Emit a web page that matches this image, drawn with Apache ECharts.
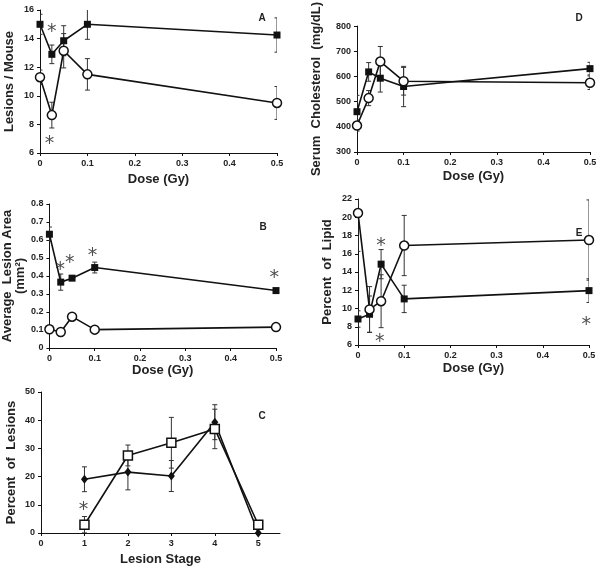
<!DOCTYPE html>
<html>
<head>
<meta charset="utf-8">
<script src="https://cdn.jsdelivr.net/npm/echarts@6/dist/echarts.min.js"></script>
<style>
  html, body { margin: 0; padding: 0; background: #fff; }
  #main { width: 602px; height: 571px; }
</style>
</head>
<body>
<div id="main"></div>
<script>
// dose points (Gy)
var doseX = [0, 0.025, 0.05, 0.1, 0.5];
var stageX = [1, 2, 3, 4, 5];

// A: lesions / mouse
var lesionsFilled = [15.0, 12.9, 13.85, 15.0, 14.25];
var lesionsFilledErr = [0.7, 0.65, 1.05, 1.05, 1.2];
var lesionsOpen = [11.3, 8.65, 13.15, 11.5, 9.5];
var lesionsOpenErr = [0.5, 0.9, 1.2, 1.1, 1.15];
var starsA = [[0.025, 14.8], [0.02, 7.0]];

// D: serum cholesterol
var cholFilled = [460, 618, 593, 560, 631];
var cholFilledErr = [65, 37, 55, 80, 25];
var cholOpen = [405, 514, 659, 581, 575];
var cholOpenErr = [22, 30, 60, 55, 27];

// B: average lesion area
var areaFilled = [0.632, 0.366, 0.388, 0.447, 0.319];
var areaFilledErr = [0.04, 0.045, 0.012, 0.03, 0.01];
var areaOpen = [0.104, 0.089, 0.174, 0.102, 0.116];
var areaOpenErr = [0.008, 0.008, 0.01, 0.008, 0.008];
var starsB = [[0.024, 0.46], [0.045, 0.50], [0.095, 0.54], [0.496, 0.416]];

// E: percent of lipid
var lipidFilled = [8.85, 9.37, 14.86, 11.05, 11.96];
var lipidFilledErr = [0.9, 2.0, 1.6, 1.5, 1.3];
var lipidOpen = [20.46, 9.9, 10.8, 16.9, 17.5];
var lipidOpenErr = [4.2, 2.5, 2.9, 3.3, 4.4];
var starsE = [[0.05, 17.35], [0.047, 6.9], [0.494, 8.74]];

// C: percent of lesions by stage
var stageOpen = [2.94, 27.5, 32.0, 36.9, 2.94];
var stageOpenErr = [2.9, 3.7, 9, 7, 1.5];
var stageFilled = [19.06, 21.6, 20.2, 39.3, 0];
var stageFilledErr = [4.4, 6.3, 5.5, 6.2, 0];
var starsC = [[0.98, 10]];

var FONT = '"Liberation Sans", Arial, sans-serif';

function pairs(xs, ys) {
  return xs.map(function (x, i) { return [x, ys[i]]; });
}
function errData(xs, ys, es) {
  return xs.map(function (x, i) { return [x, ys[i] - es[i], ys[i] + es[i]]; });
}

function errRender(params, api) {
  var x = api.value(0);
  var top = api.coord([x, api.value(2)]);
  var bot = api.coord([x, api.value(1)]);
  var w = 2.5;
  var st = { stroke: '#333', lineWidth: 1 };
  return {
    type: 'group',
    children: [
      { type: 'line', shape: { x1: top[0], y1: top[1], x2: bot[0], y2: bot[1] }, style: st },
      { type: 'line', shape: { x1: top[0] - w, y1: top[1], x2: top[0] + w, y2: top[1] }, style: st },
      { type: 'line', shape: { x1: bot[0] - w, y1: bot[1], x2: bot[0] + w, y2: bot[1] }, style: st }
    ]
  };
}

var grids = [
  { left: 40, top: 10, width: 237, height: 143 },   // A
  { left: 357, top: 9, width: 233, height: 143 },   // D
  { left: 48, top: 204, width: 228, height: 144 },  // B
  { left: 358, top: 199, width: 231, height: 146 }, // E
  { left: 41, top: 392, width: 239, height: 141 }   // C
];

var axisCommon = {
  axisLine: { onZero: false, lineStyle: { color: '#111', width: 1 } },
  axisTick: { length: 3, lineStyle: { color: '#111' } },
  splitLine: { show: false },
  axisLabel: { fontFamily: FONT, fontWeight: 'bold', fontSize: 9, color: '#222', margin: 6 },
  nameLocation: 'middle',
  nameTextStyle: { fontFamily: FONT, fontWeight: 'bold', fontSize: 13, color: '#222' }
};

function xAx(idx, opts) {
  return Object.assign({ type: 'value', gridIndex: idx }, axisCommon, opts);
}
function yAx(idx, opts) {
  return Object.assign({ type: 'value', gridIndex: idx }, axisCommon, opts);
}

var xAxes = [
  xAx(0, { min: 0, max: 0.5, interval: 0.1, name: 'Dose (Gy)', nameGap: 20 }),
  xAx(1, { min: 0, max: 0.5, interval: 0.1, name: 'Dose (Gy)', nameGap: 18 }),
  xAx(2, { min: 0, max: 0.5, interval: 0.1, name: 'Dose (Gy)', nameGap: 15 }),
  xAx(3, { min: 0, max: 0.5, interval: 0.1, name: 'Dose (Gy)', nameGap: 17 }),
  xAx(4, { min: 0, max: 5.5, interval: 1, name: 'Lesion Stage', nameGap: 20,
    axisLabel: Object.assign({}, axisCommon.axisLabel, { showMaxLabel: false }) })
];
var yAxes = [
  yAx(0, { min: 6, max: 16, interval: 2, name: 'Lesions / Mouse', nameGap: 24 }),
  yAx(1, { min: 300, max: 800, interval: 100, name: 'Serum  Cholesterol  (mg/dL)', nameGap: 34 }),
  yAx(2, { min: 0, max: 0.8, interval: 0.1, name: 'Average  Lesion Area\n(mm\u00B2)', nameGap: 22 }),
  yAx(3, { min: 6, max: 22, interval: 2, name: 'Percent  of  Lipid', nameGap: 24 }),
  yAx(4, { min: 0, max: 50, interval: 10, name: 'Percent  of  Lesions', nameGap: 23 })
];

function lineSeries(idx, xs, ys, kind) {
  var s = {
    type: 'line', xAxisIndex: idx, yAxisIndex: idx, z: 3,
    data: pairs(xs, ys),
    lineStyle: { color: '#111', width: 1.6 },
    showAllSymbol: true
  };
  if (kind === 'filledSquare') {
    s.symbol = 'rect'; s.symbolSize = 7;
    s.itemStyle = { color: '#111', borderColor: '#111', borderWidth: 0 };
  } else if (kind === 'openCircle') {
    s.symbol = 'circle'; s.symbolSize = 9;
    s.itemStyle = { color: '#fff', borderColor: '#111', borderWidth: 1.5 };
  } else if (kind === 'openSquare') {
    s.symbol = 'rect'; s.symbolSize = 9;
    s.itemStyle = { color: '#fff', borderColor: '#111', borderWidth: 1.5 };
  } else {
    s.symbol = 'diamond'; s.symbolSize = [7, 9];
    s.itemStyle = { color: '#111', borderColor: '#111', borderWidth: 0 };
  }
  return s;
}
function errSeries(idx, xs, ys, es) {
  return {
    type: 'custom', xAxisIndex: idx, yAxisIndex: idx, z: 2,
    renderItem: errRender, data: errData(xs, ys, es), clip: true
  };
}
function starSeries(idx, pts) {
  return {
    type: 'scatter', xAxisIndex: idx, yAxisIndex: idx, z: 4,
    symbolSize: 0, data: pts,
    label: {
      show: true, position: 'inside', formatter: '*',
      fontFamily: '"DejaVu Sans", sans-serif', fontSize: 19, color: '#222',
      offset: [0, 5]
    }
  };
}

var series = [
  errSeries(0, doseX, lesionsFilled, lesionsFilledErr),
  errSeries(0, doseX, lesionsOpen, lesionsOpenErr),
  lineSeries(0, doseX, lesionsFilled, 'filledSquare'),
  lineSeries(0, doseX, lesionsOpen, 'openCircle'),
  starSeries(0, starsA),

  errSeries(1, doseX, cholFilled, cholFilledErr),
  errSeries(1, doseX, cholOpen, cholOpenErr),
  lineSeries(1, doseX, cholFilled, 'filledSquare'),
  lineSeries(1, doseX, cholOpen, 'openCircle'),

  errSeries(2, doseX, areaFilled, areaFilledErr),
  errSeries(2, doseX, areaOpen, areaOpenErr),
  lineSeries(2, doseX, areaFilled, 'filledSquare'),
  lineSeries(2, doseX, areaOpen, 'openCircle'),
  starSeries(2, starsB),

  errSeries(3, doseX, lipidFilled, lipidFilledErr),
  errSeries(3, doseX, lipidOpen, lipidOpenErr),
  lineSeries(3, doseX, lipidFilled, 'filledSquare'),
  lineSeries(3, doseX, lipidOpen, 'openCircle'),
  starSeries(3, starsE),

  errSeries(4, stageX, stageOpen, stageOpenErr),
  errSeries(4, stageX, stageFilled, stageFilledErr),
  lineSeries(4, stageX, stageFilled, 'diamond'),
  lineSeries(4, stageX, stageOpen, 'openSquare'),
  starSeries(4, starsC)
];

// panel letters
var letters = [['A', 262, 18], ['D', 579, 18], ['B', 263, 227], ['E', 579, 233], ['C', 262, 416]];
var graphic = letters.map(function (l) {
  return {
    type: 'text', x: l[1], y: l[2],
    style: { text: l[0], fontFamily: FONT, fontWeight: 'bold', fontSize: 10, fill: '#222',
      align: 'center', verticalAlign: 'middle' }
  };
});

var chart = echarts.init(document.getElementById('main'));
chart.setOption({
  animation: false,
  backgroundColor: '#fff',
  grid: grids,
  xAxis: xAxes,
  yAxis: yAxes,
  series: series,
  graphic: graphic
});
</script>
</body>
</html>
